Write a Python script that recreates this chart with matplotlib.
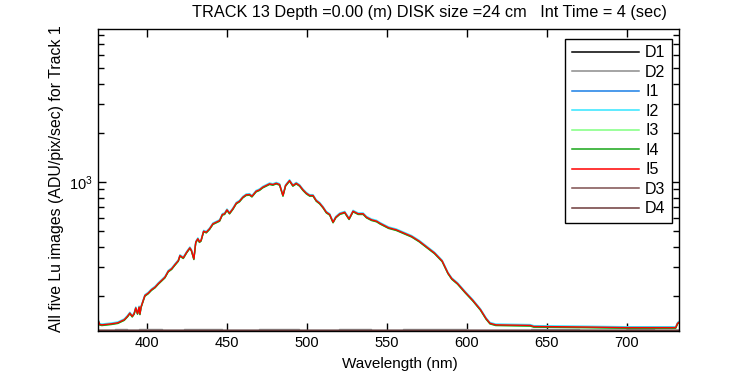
import matplotlib
matplotlib.use("Agg")
import matplotlib.pyplot as plt
from matplotlib.ticker import FixedLocator, FixedFormatter, NullFormatter, LogLocator
import numpy as np

plt.rcParams['font.family'] = ['Liberation Sans', 'DejaVu Sans']
plt.rcParams['mathtext.default'] = 'regular'

# ---- data ----
wl = [369.8, 370.6, 372, 375, 378, 380, 382, 384, 386, 388, 389.5, 391, 392.2, 393.2,
      394.3, 395.3, 395.8, 396.5, 397.9, 398.9, 401, 403, 405.2, 407.3, 409.4, 411.4,
      413.5, 415.6, 417.7, 419.8, 420.8, 422.9, 425, 427, 428, 429.5, 430.7, 432, 433,
      434, 435.6, 437.3, 439.3, 441.4, 443.5, 445.6, 447.3, 448.7, 450.2, 451.8, 453.9,
      456, 458, 460.1, 462.2, 464.3, 465.8, 468.4, 470.5, 472.6, 474.7, 476.8, 478.9,
      481, 483.1, 485.2, 486.8, 489.3, 491.4, 493.5, 495.6, 497.7, 499.8, 501.9, 504,
      506, 508.1, 510.2, 512.3, 514.4, 516.5, 518.2, 520.7, 523.8, 526.5, 529, 532.2,
      535.3, 537.4, 540.5, 543.7, 545.8, 551.2, 556, 560.8, 565.6, 570.3, 575.1, 579.9,
      584.7, 588.3, 590.7, 594.3, 599, 603.8, 608.6, 612.2, 614.6, 618.2, 639.7, 642,
      675.6, 699.5, 730.6, 731.8, 732.7]
lu = [140, 133, 132, 133, 134, 135, 136, 139, 142, 149, 156, 149, 155, 168,
      155, 170, 154, 170, 187, 200, 207, 217, 225, 237, 248, 259,
      282, 292, 310, 328, 352, 341, 369, 393, 379, 336, 426, 447, 428,
      436, 497, 490, 514, 552, 565, 578, 630, 636, 673, 641, 683,
      739, 760, 804, 832, 836, 815, 875, 893, 927, 949, 972, 962,
      980, 962, 824, 949, 1018, 949, 980, 949, 893, 851, 824, 824,
      767, 739, 698, 650, 630, 565, 606, 636, 650, 592, 660, 636,
      636, 606, 584, 573, 556, 522, 507, 484, 462, 432, 397, 365,
      326, 275, 254, 237, 210, 187, 164, 144, 135, 132, 131, 129,
      128, 127, 127, 135, 137]

# relative level of each light image against the common spectrum
i_scale = {'I1': 0.997, 'I2': 1.012, 'I3': 0.994, 'I4': 0.99, 'I5': 1.0}

dark_wl = [369.8, 380, 381, 395, 396, 423, 424, 470, 471, 520, 521, 560, 561, 640, 641,
           700, 701, 732.7]
d1 = [122.3] * len(dark_wl)
d2 = [122.3, 122.3, 124.5, 122.3, 124.5, 122.3, 124.5, 122.3, 124.5, 122.3, 124.5,
      122.3, 124.5, 122.3, 124.5, 122.3, 124.5, 122.3]
d3 = [122.5] * len(dark_wl)
d4 = [122.4] * len(dark_wl)

labels = ['D1', 'D2', 'I1', 'I2', 'I3', 'I4', 'I5', 'D3', 'D4']
colors = {'D1': '#000000', 'D2': '#8c8c8c', 'I1': '#1a7fe6', 'I2': '#33e6ff',
          'I3': '#80ff80', 'I4': '#19a619', 'I5': '#ff0000', 'D3': '#7f4f4f', 'D4': '#6e3b3b'}

title = 'TRACK 13 Depth =0.00 (m) DISK size =24 cm   Int Time = 4 (sec)'
ylabel = 'All five Lu images (ADU/pix/sec) for Track 1'
xlabel = 'Wavelength (nm)'
xticks = [400, 450, 500, 550, 600, 650, 700]

# ---- figure ----
fig = plt.figure(figsize=(7.5, 3.75), dpi=100)
ax = fig.add_axes([98 / 750, 1 - 331 / 375, (679 - 98) / 750, (331 - 29) / 375])

lu_arr = np.array(lu, dtype=float)
dark = {'D1': d1, 'D2': d2, 'D3': d3, 'D4': d4}
for lab in labels:
    if lab.startswith('I'):
        ax.plot(wl, lu_arr * i_scale[lab], color=colors[lab], lw=1.0, label=lab)
    else:
        ax.plot(dark_wl, dark[lab], color=colors[lab], lw=1.0,
                drawstyle='steps-mid', label=lab)

ax.set_yscale('log')
ax.set_xlim(369.6, 732.7)
ax.set_ylim(121, 8700)
ax.xaxis.set_major_locator(FixedLocator(xticks))
ax.yaxis.set_major_locator(FixedLocator([1000]))
ax.yaxis.set_major_formatter(FixedFormatter([r'$10^{3}$']))
ax.yaxis.set_minor_locator(LogLocator(base=10, subs=np.arange(2, 10)))
ax.yaxis.set_minor_formatter(NullFormatter())

ax.tick_params(which='both', direction='in', top=True, right=True, labelsize=10.5)
ax.tick_params(which='major', length=6, width=1)
ax.tick_params(which='minor', length=4, width=1)
for s in ax.spines.values():
    s.set_linewidth(1.0)

fig.text(429 / 750, 1 - 12.5 / 375, title, ha='center', va='center', fontsize=11.7)
fig.text(57 / 750, 1 - 179 / 375, ylabel, rotation=90, ha='center', va='center', fontsize=11.4)
fig.text(400 / 750, 1 - 364 / 375, xlabel, ha='center', va='center', fontsize=11)

leg = ax.legend(loc='upper right', bbox_to_anchor=(672 / 750, 1 - 39 / 375),
                bbox_transform=fig.transFigure, fontsize=11.5, handlelength=4.2,
                labelspacing=0.28, borderaxespad=0, fancybox=False, framealpha=1,
                edgecolor='black', borderpad=0.4, handletextpad=0.4)
leg.get_frame().set_linewidth(1.0)
for h in leg.get_lines():
    h.set_linewidth(1.1)

fig.savefig('out.png', dpi=100)
